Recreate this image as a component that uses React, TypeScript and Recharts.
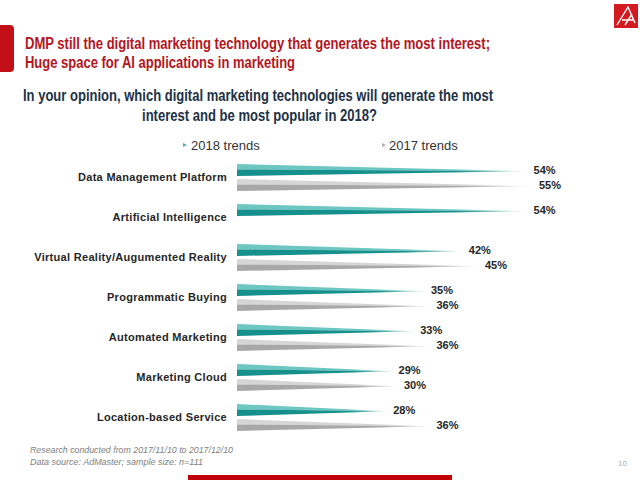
import React from 'react';
import { BarChart, Bar, XAxis, YAxis, LabelList } from 'recharts';

const categories = [
  'Data Management Platform',
  'Artificial Intelligence',
  'Virtual Reality/Augumented Reality',
  'Programmatic Buying',
  'Automated Marketing',
  'Marketing Cloud',
  'Location-based Service',
];
const trends2018: number[] = [54, 54, 42, 35, 33, 29, 28];
const trends2017: (number | null)[] = [55, null, 45, 36, 36, 30, 36];
const seriesNames = ['2018 trends', '2017 trends'];

const data = categories.map((name, i) => ({ name, v2018: trends2018[i], v2017: trends2017[i] }));

const FONT = '"Liberation Sans", Arial, sans-serif';

const makeWedge = (id: string) => (props: any) => {
  const { x, y, width, height } = props;
  if (width == null || !(width > 0) || !(height > 0)) return <g />;
  const tipY = y + height * 0.6;
  const mid = y + height * 0.45;
  return (
    <g>
      <polygon points={`${x},${y} ${x + width},${tipY} ${x},${mid}`} fill={`url(#${id}L)`} />
      <polygon points={`${x},${mid} ${x + width},${tipY} ${x},${y + height}`} fill={`url(#${id}D)`} />
    </g>
  );
};

const makeLabel = () => (p: any) => {
  const { x, y, width, height, value } = p;
  if (value == null) return null;
  return (
    <text
      x={x + width + 5}
      y={y + height / 2}
      dy="0.36em"
      fontSize={11}
      fontWeight="bold"
      fontFamily={FONT}
      fill="#262626"
    >
      {value}%
    </text>
  );
};

const grad = (id: string, color: string) => (
  <linearGradient id={id} x1="0" y1="0" x2="1" y2="0">
    <stop offset="0" stopColor={color} stopOpacity={1} />
    <stop offset="0.75" stopColor={color} stopOpacity={1} />
    <stop offset="1" stopColor={color} stopOpacity={0.15} />
  </linearGradient>
);

export default function App() {
  return (
    <div style={{ position: 'absolute', left: 0, top: 0, width: 640, height: 480, background: '#fff', fontFamily: FONT }}>
      <BarChart
        width={640}
        height={480}
        layout="vertical"
        data={data}
        margin={{ top: 157, right: 79, bottom: 43, left: 0 }}
        barSize={12}
        barGap={3}
      >
        <defs>
          {grad('tealL', '#6cc7c3')}
          {grad('tealD', '#16908c')}
          {grad('grayL', '#d6d6d6')}
          {grad('grayD', '#a8a8a8')}
        </defs>
        <XAxis type="number" domain={[0, 60]} hide />
        <YAxis
          type="category"
          dataKey="name"
          width={237}
          axisLine={false}
          tickLine={false}
          tickSize={0}
          tickMargin={10}
          interval={0}
          tick={{ fontSize: 11, fontWeight: 'bold', fill: '#262626', fontFamily: FONT, letterSpacing: 0.3 } as any}
        />
        <Bar dataKey="v2018" name={seriesNames[0]} shape={makeWedge('teal')} isAnimationActive={false}>
          <LabelList dataKey="v2018" content={makeLabel()} />
        </Bar>
        <Bar dataKey="v2017" name={seriesNames[1]} shape={makeWedge('gray')} isAnimationActive={false}>
          <LabelList dataKey="v2017" content={makeLabel()} />
        </Bar>
      </BarChart>
      <svg
        width={640}
        height={480}
        style={{ position: 'absolute', left: 0, top: 0, pointerEvents: 'none' }}
        fontFamily={FONT}
      >
        <rect x={-6} y={25} width={20} height={47} rx={4} fill="#c20e16" />
        <rect x={614} y={4} width={24} height={24} fill="#d41a21" />
        <path d="M617 25 L628 7 L635 23 M622 20 L633 20 M625 25 L632 14" stroke="#fff" strokeWidth={1.4} fill="none" />
        <text x={25} y={49} fontSize={16} fontWeight="bold" fill="#b4151d" textLength={465} lengthAdjust="spacingAndGlyphs">
          DMP still the digital marketing technology that generates the most interest;
        </text>
        <text x={25} y={68} fontSize={16} fontWeight="bold" fill="#b4151d" textLength={270} lengthAdjust="spacingAndGlyphs">
          Huge space for AI applications in marketing
        </text>
        <text x={23} y={101} fontSize={16.5} fontWeight="bold" fill="#1d3246" textLength={470} lengthAdjust="spacingAndGlyphs">
          In your opinion, which digital marketing technologies will generate the most
        </text>
        <text x={142} y={121} fontSize={16.5} fontWeight="bold" fill="#1d3246" textLength={235} lengthAdjust="spacingAndGlyphs">
          interest and be most popular in 2018?
        </text>
        <polygon points="183,143 187,145 183,147" fill="#4fb0ac" />
        <text x={191} y={150} fontSize={13} fill="#333">{seriesNames[0]}</text>
        <polygon points="382,143 386,145 382,147" fill="#b0b0b0" />
        <text x={389} y={150} fontSize={13} fill="#333">{seriesNames[1]}</text>
        <text x={30} y={453} fontSize={9.5} fontStyle="italic" fill="#808080" textLength={203} lengthAdjust="spacingAndGlyphs">
          Research conducted from 2017/11/10 to 2017/12/10
        </text>
        <text x={30} y={465} fontSize={9.5} fontStyle="italic" fill="#808080" textLength={173} lengthAdjust="spacingAndGlyphs">
          Data source: AdMaster; sample size: n=111
        </text>
        <text x={618} y={466} fontSize={8} fill="#aaa">10</text>
        <rect x={188} y={475} width={264} height={5} fill="#c00000" />
      </svg>
    </div>
  );
}
